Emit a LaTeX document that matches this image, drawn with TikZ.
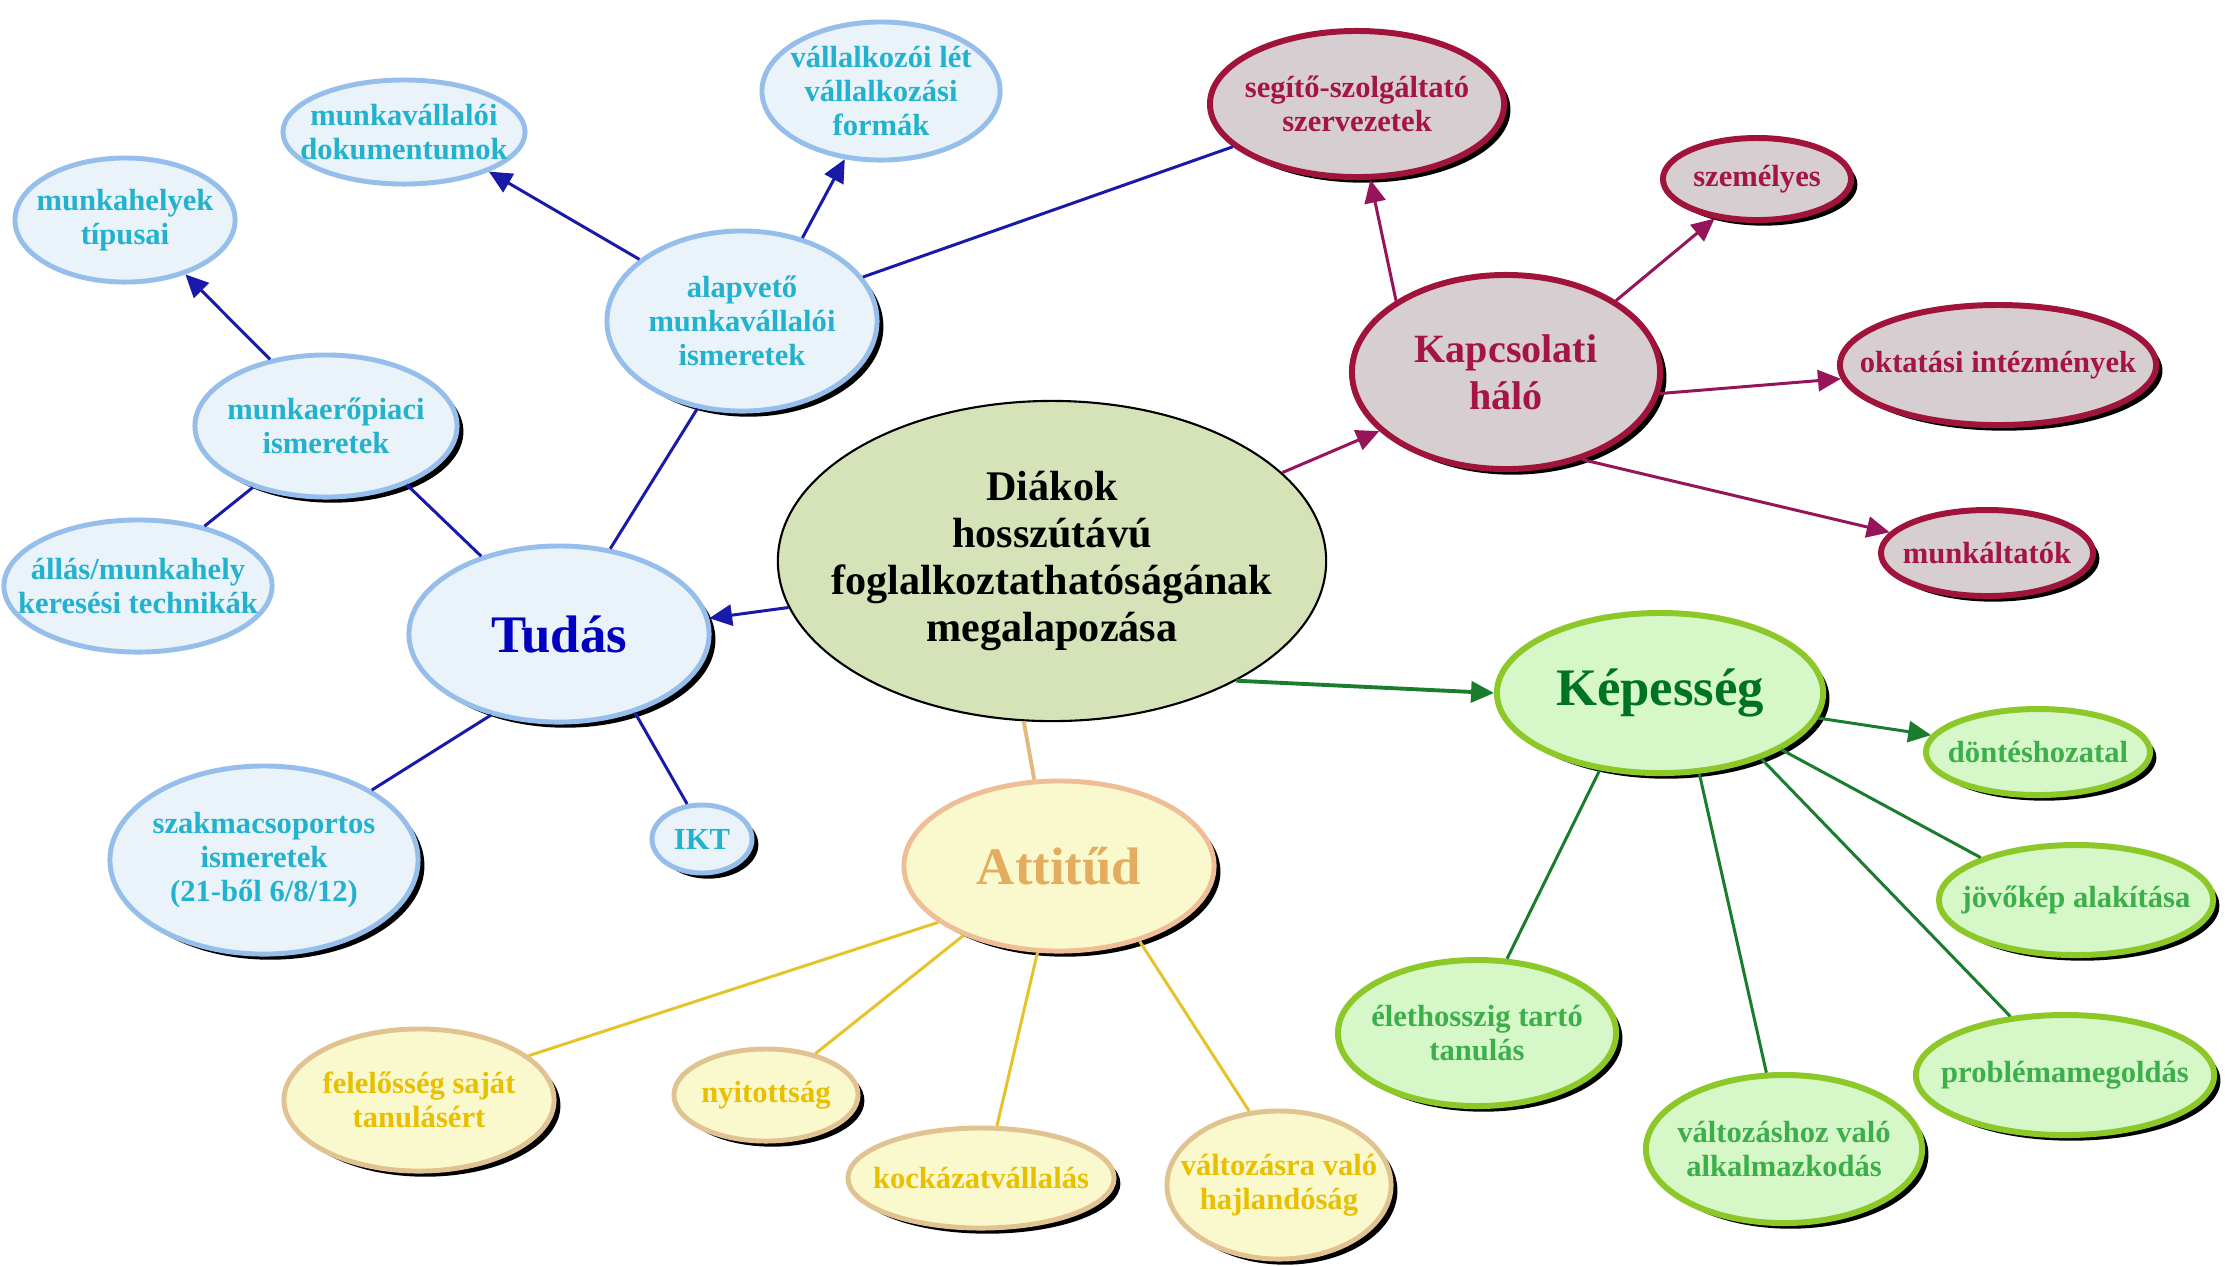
\documentclass[tikz,border=0pt]{standalone}
\usepackage{fontspec}
\setmainfont{Liberation Serif}
\usetikzlibrary{shapes.geometric,shadows,arrows.meta}

\definecolor{blueFill}{RGB}{234,242,250}
\definecolor{blueRim}{RGB}{150,190,235}
\definecolor{leafCyan}{RGB}{35,178,205}
\definecolor{tudasText}{RGB}{0,0,190}
\definecolor{blueLine}{RGB}{25,25,170}
\definecolor{centreFill}{RGB}{214,227,184}
\definecolor{netFill}{RGB}{214,206,209}
\definecolor{netRim}{RGB}{160,20,60}
\definecolor{netText}{RGB}{165,20,70}
\definecolor{netLine}{RGB}{150,20,90}
\definecolor{greenFill}{RGB}{214,248,200}
\definecolor{greenRim}{RGB}{140,200,40}
\definecolor{kepText}{RGB}{0,115,35}
\definecolor{greenLeafText}{RGB}{60,175,75}
\definecolor{greenLine}{RGB}{25,125,45}
\definecolor{creamFill}{RGB}{250,248,205}
\definecolor{attRim}{RGB}{240,190,150}
\definecolor{attText}{RGB}{228,172,95}
\definecolor{goldRim}{RGB}{225,195,145}
\definecolor{goldText}{RGB}{232,192,0}
\definecolor{goldLine}{RGB}{230,195,40}
\definecolor{tanLine}{RGB}{225,185,125}

\begin{document}
\begin{tikzpicture}[x=0.01cm, y=-0.01cm,
	bubble/.style={ellipse, inner xsep=-2cm, inner ysep=-1cm, align=center, font=\bfseries\fontsize{8.7}{9.6}\selectfont},
	shadowed/.style={drop shadow={shadow xshift=1.8pt, shadow yshift=-1.6pt, opacity=1, fill=black}},
	mainFont/.style={font=\bfseries\fontsize{15}{17}\selectfont},
	blueLeaf/.style={bubble, draw=blueRim, line width=1.4pt, fill=blueFill, text=leafCyan},
	netLeaf/.style={bubble, shadowed, draw=netRim, line width=1.7pt, fill=netFill, text=netText},
	greenLeaf/.style={bubble, shadowed, draw=greenRim, line width=1.7pt, fill=greenFill, text=greenLeafText},
	goldLeaf/.style={bubble, shadowed, draw=goldRim, line width=1.4pt, fill=creamFill, text=goldText},
	tip/.style={-{Triangle[length=6.5pt,width=6pt]}},
	blueLink/.style={draw=blueLine, line width=0.85pt},
	netLink/.style={draw=netLine, line width=0.85pt},
	greenLink/.style={draw=greenLine, line width=0.85pt},
	goldLink/.style={draw=goldLine, line width=0.85pt}]

\fill[white] (0,0) rectangle (2225,1265);
\useasboundingbox (0,0) rectangle (2225,1265);

\node[bubble, draw=black, line width=0.6pt, fill=centreFill, font=\bfseries\fontsize{12}{13.4}\selectfont, minimum width=5.48cm, minimum height=3.2cm](centre) at (1052,561){Diákok\\hosszútávú\\foglalkoztathatóságának\\megalapozása};

\node[blueLeaf, shadowed, mainFont, text=tudasText, minimum width=3cm, minimum height=1.76cm](tudas) at (559,634){Tudás};
\node[blueLeaf, shadowed, minimum width=2.7cm, minimum height=1.8cm](alap) at (742,321){alapvető\\munkavállalói\\ismeretek};
\node[blueLeaf, minimum width=2.42cm, minimum height=1.04cm](dok) at (404,132){munkavállalói\\dokumentumok};
\node[blueLeaf, minimum width=2.38cm, minimum height=1.38cm](vallal) at (881,91){vállalkozói lét\\vállalkozási\\formák};
\node[blueLeaf, minimum width=2.2cm, minimum height=1.24cm](tipus) at (125,220){munkahelyek\\típusai};
\node[blueLeaf, shadowed, minimum width=2.62cm, minimum height=1.42cm](piac) at (326,426){munkaerőpiaci\\ismeretek};
\node[blueLeaf, minimum width=2.68cm, minimum height=1.32cm](allas) at (138,586){állás/munkahely\\keresési technikák};
\node[blueLeaf, shadowed, minimum width=3.08cm, minimum height=1.88cm](szakma) at (264,860){szakmacsoportos\\ismeretek\\(21-ből 6/8/12)};
\node[blueLeaf, shadowed, minimum width=1cm, minimum height=0.68cm](ikt) at (702,839){IKT};

\node[netLeaf, font=\bfseries\fontsize{11.4}{13.3}\selectfont, minimum width=3.08cm, minimum height=1.94cm](halo) at (1506,372){Kapcsolati\\háló};
\node[netLeaf, minimum width=2.94cm, minimum height=1.46cm](segito) at (1357,104){segítő-szolgáltató\\szervezetek};
\node[netLeaf, minimum width=1.88cm, minimum height=0.82cm](szemelyes) at (1757,179){személyes};
\node[netLeaf, minimum width=3.16cm, minimum height=1.2cm](oktatas) at (1998,365){oktatási intézmények};
\node[netLeaf, minimum width=2.12cm, minimum height=0.86cm](munkaltato) at (1987,553){munkáltatók};

\node[greenLeaf, mainFont, text=kepText, minimum width=3.26cm, minimum height=1.6cm](kepesseg) at (1660,693){Képesség};
\node[greenLeaf, minimum width=2.24cm, minimum height=0.86cm](dontes) at (2038,752){döntéshozatal};
\node[greenLeaf, minimum width=2.74cm, minimum height=1.1cm](jovokep) at (2076,900){jövőkép alakítása};
\node[greenLeaf, minimum width=2.98cm, minimum height=1.2cm](problema) at (2065,1075){problémamegoldás};
\node[greenLeaf, minimum width=2.76cm, minimum height=1.48cm](alkalmaz) at (1784,1149){változáshoz való\\alkalmazkodás};
\node[greenLeaf, minimum width=2.78cm, minimum height=1.46cm](elethossz) at (1477,1033){élethosszig tartó\\tanulás};

\node[goldLeaf, mainFont, draw=attRim, text=attText, minimum width=3.1cm, minimum height=1.7cm](attitud) at (1059,866){Attitűd};
\node[goldLeaf, minimum width=2.7cm, minimum height=1.42cm](felelos) at (419,1100){felelősség saját\\tanulásért};
\node[goldLeaf, minimum width=1.84cm, minimum height=0.92cm](nyitott) at (766,1095){nyitottság};
\node[goldLeaf, minimum width=2.66cm, minimum height=1cm](kockazat) at (981,1178){kockázatvállalás};
\node[goldLeaf, minimum width=2.24cm, minimum height=1.48cm](hajlandosag) at (1279,1185){változásra való\\hajlandóság};

\draw[blueLink, tip] (centre.190) -- (tudas.6);
\draw[netLink, tip] (centre.21) -- (halo.205);
\draw[greenLink, tip, line width=1.1pt] (centre.327) -- (kepesseg.180);
\draw[draw=tanLine, line width=1.1pt] (centre.260) -- (attitud.106);

\draw[blueLink] (tudas.59) -- (alap.243);
\draw[blueLink] (tudas.135) -- (piac.324);
\draw[blueLink] (tudas.230) -- (szakma.33);
\draw[blueLink] (tudas.314) -- (ikt.113);
\draw[blueLink, tip] (alap.149) -- (dok.335);
\draw[blueLink, tip] (alap.54) -- (vallal.242);
\draw[blueLink] (alap.20) -- (segito.199);
\draw[blueLink, tip] (piac.130) -- (tipus.318);
\draw[blueLink] (piac.220) -- (allas.42);

\draw[netLink, tip] (halo.147) -- (segito.280);
\draw[netLink, tip] (halo.33) -- (szemelyes.223);
\draw[netLink, tip] (halo.352) -- (oktatas.185);
\draw[netLink, tip] (halo.311) -- (munkaltato.168);

\draw[greenLink, tip] (kepesseg.351) -- (dontes.171);
\draw[greenLink] (kepesseg.335) -- (jovokep.156);
\draw[greenLink] (kepesseg.327) -- (problema.133);
\draw[greenLink] (kepesseg.296) -- (alkalmaz.103);
\draw[greenLink] (kepesseg.232) -- (elethossz.68);

\draw[goldLink] (attitud.205) -- (felelos.22);
\draw[goldLink] (attitud.216) -- (nyitott.40);
\draw[goldLink] (attitud.256) -- (kockazat.73);
\draw[goldLink] (attitud.317) -- (hajlandosag.112);
\end{tikzpicture}
\end{document}
